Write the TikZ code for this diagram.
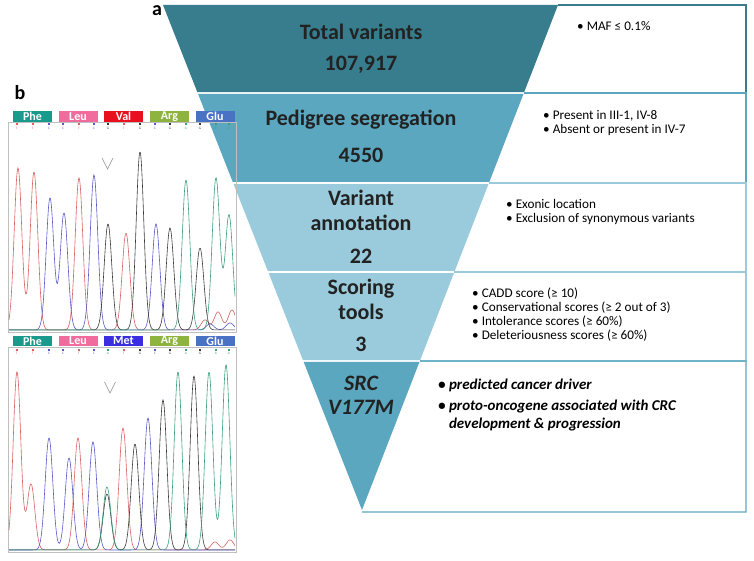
\documentclass[tikz,border=0pt]{standalone}
\usepackage{fontspec}
\setmainfont{Carlito}
\usetikzlibrary{calc, positioning}
\definecolor{bandA}{HTML}{387D8E}
\definecolor{bandB}{HTML}{5BA7C0}
\definecolor{bandC}{HTML}{9ACBDC}
\definecolor{ink}{HTML}{222222}
\definecolor{phe}{HTML}{1A9A8C}
\definecolor{leu}{HTML}{F06C9C}
\definecolor{val}{HTML}{E8101C}
\definecolor{arg}{HTML}{8EB440}
\definecolor{glu}{HTML}{4A72C4}
\definecolor{met}{HTML}{3A2EE0}
\definecolor{trT}{HTML}{D86060}
\definecolor{trC}{HTML}{5858C8}
\definecolor{trG}{HTML}{3A3A3A}
\definecolor{trA}{HTML}{3A9F7A}
\tikzstyle{ttl}=[text=ink,font=\fontsize{22}{25}\selectfont\bfseries,align=center,inner sep=0pt]
\tikzstyle{crit}=[anchor=north west,font=\fontsize{13.2}{13.8}\selectfont,align=left,inner sep=0pt]
\tikzstyle{aa}=[text=white,font=\fontsize{12}{12}\selectfont\bfseries,minimum width=39pt,minimum height=10.5pt,inner sep=0pt]
\tikzstyle{bc}=[font=\fontsize{3.5}{3.5}\selectfont,inner sep=0pt]
\tikzstyle{trc}=[line width=.6pt]
\tikzstyle{frm}=[draw=black!25,line width=.8pt]
\tikzstyle{lbl}=[font=\fontsize{20}{20}\selectfont\bfseries,inner sep=0pt]

\begin{document}
\begin{tikzpicture}[x=1pt,y=-1pt,declare function={pk(\u,\m,\h)=\h*exp(-min(((\u-\m)/5.4)^2,9));}]
\useasboundingbox (0,0) rectangle (754,561);
% funnel
\coordinate (TL) at (163,5); \coordinate (TR) at (558,5); \coordinate (tip) at (362,510);
\foreach \a/\b/\c in {0/.1723/bandA, .1762/.3505/bandB, .3545/.5267/bandC, .5307/.7030/bandC}
    \fill[\c] ($(TL)!\a!(tip)$) -- ($(TR)!\a!(tip)$) -- ($(TR)!\b!(tip)$) -- ($(TL)!\b!(tip)$) -- cycle;
\fill[bandB] ($(TL)!.7069!(tip)$) -- ($(TR)!.7069!(tip)$) -- (tip) -- cycle;
\foreach \a/\b/\c in {0/.1743/bandA, .1743/.3525/bandB, .3525/.5287/bandC, .5287/.7050/bandC}
    \draw[\c,line width=1.2pt] ($(TR)!\a!(tip)$) -- (746,{5+505*\a}) -- (746,{5+505*\b}) -- ($(TR)!\b!(tip)$);
\draw[bandB,line width=1.2pt] ($(TR)!.7050!(tip)$) -- (746,361) -- (746,512) -- (362,512);
\node[ttl] (tot) at (361,32) {Total variants};
\node[ttl] (totn) at (361,65) {107,917};
\node[ttl] (ped) at (361,120) {Pedigree segregation};
\node[ttl] (pedn) at (361,155) {4550};
\node[ttl] (ann) at (361,210) {Variant\\annotation};
\node[ttl] (annn) at (361,256) {22};
\node[ttl] (sco) at (361,299) {Scoring\\tools};
\node[ttl] (scon) at (361,344) {3};
\node[ttl,font=\fontsize{22}{24}\selectfont\bfseries\itshape] (src) at (361,395) {SRC\\V177M};
% criteria
\node[crit] (maf) at (577,21) {• MAF ≤ 0.1\%};
\node[crit] (seg) at (543,110) {• Present in III-1, IV-8\\• Absent or present in IV-7};
\node[crit] (exo) at (506,199) {• Exonic location\\• Exclusion of synonymous variants};
\node[crit] (cad) at (472,288) {• CADD score (≥ 10)\\• Conservational scores (≥ 2 out of 3)\\• Intolerance scores (≥ 60\%)\\• Deleteriousness scores (≥ 60\%)};
\node[crit,font=\fontsize{15}{18}\selectfont\bfseries\itshape] (drv) at (438,379) {• predicted cancer driver\\[3pt]• proto-oncogene associated with CRC\\\phantom{•\ }development \& progression};
\node[lbl] (pa) at (157,11) {a};
\node[lbl] (pb) at (20,93) {b};
% chromatograms
\draw[frm] (8,122) rectangle (236,332);
\draw[frm] (8,347) rectangle (236,552);
\foreach \x/\t/\c [count=\i] in {32.5/Phe/phe, 78/Leu/leu, 123.5/Val/val, 169.5/Arg/arg, 215/Glu/glu}
    \node[aa,fill=\c] (up\i) at (\x,116.5) {\t};
\foreach \x/\t/\c [count=\i] in {32.5/Phe/phe, 78/Leu/leu, 123.5/Met/met, 169.5/Arg/arg, 215/Glu/glu}
    \node[aa,fill=\c] (lo\i) at (\x,341) {\t};
\foreach \x/\b/\c [count=\i] in {17/T/trT, 33/T/trT, 49/C/trC, 63/C/trC, 79/T/trT, 94/C/trC, 108/G/trG, 124/T/trT, 140/G/trG, 155/C/trC, 170/G/trG, 186/A/trA, 200/G/trG, 216/A/trA, 229/A/trA} {
    \fill[\c] (\x-1,123.5) rectangle (\x+1,125.5);
    \node[bc,text=\c] (s\i) at (\x,128.5) {\b};}
\foreach \x/\b/\c [count=\i] in {17/T/trT, 33/T/trT, 49/C/trC, 63/C/trC, 79/T/trT, 94/C/trC, 108/A/trA, 124/T/trT, 140/G/trG, 155/C/trC, 170/G/trG, 186/A/trA, 200/G/trG, 216/A/trA, 229/A/trA} {
    \fill[\c] (\x-1,348.5) rectangle (\x+1,350.5);
    \node[bc,text=\c] (m\i) at (\x,353.5) {\b};}
\draw[trc,trT] plot[domain=9:235,samples=230,smooth] (\x,{330-pk(\x,18,162)-pk(\x,34,158)-pk(\x,79,152)-pk(\x,126,97)-pk(\x,205,10)-pk(\x,218,18)-pk(\x,232,20)});
\draw[trc,trC] plot[domain=9:235,samples=230,smooth] (\x,{330-pk(\x,50,132)-pk(\x,64,117)-pk(\x,94,155)-pk(\x,156,106)-pk(\x,210,6)-pk(\x,230,7)});
\draw[trc,trG] plot[domain=9:235,samples=230,smooth] (\x,{330-pk(\x,108,106)-pk(\x,140,178)-pk(\x,170,102)-pk(\x,200,82)});
\draw[trc,trA] plot[domain=9:235,samples=230,smooth] (\x,{330-pk(\x,186,150)-pk(\x,216,152)-pk(\x,229,115)});
\draw[trc,trT] plot[domain=9:235,samples=230,smooth] (\x,{550-pk(\x,17,178)-pk(\x,31,66)-pk(\x,78,112)-pk(\x,123,122)-pk(\x,215,8)-pk(\x,230,10)});
\draw[trc,trC] plot[domain=9:235,samples=230,smooth] (\x,{550-pk(\x,49,112)-pk(\x,69,92)-pk(\x,93,108)-pk(\x,148,132)});
\draw[trc,trG] plot[domain=9:235,samples=230,smooth] (\x,{550-pk(\x,107,56)-pk(\x,135,106)-pk(\x,163,150)-pk(\x,194,174)});
\draw[trc,trA] plot[domain=9:235,samples=230,smooth] (\x,{550-pk(\x,107,63)-pk(\x,178,178)-pk(\x,209,178)-pk(\x,226,185)});
\draw[black!45,line width=.6pt] (102,158) -- (107.5,169) -- (113,158);
\draw[black!45,line width=.6pt] (104.5,382) -- (110,393) -- (115.5,382);
\end{tikzpicture}
\end{document}
